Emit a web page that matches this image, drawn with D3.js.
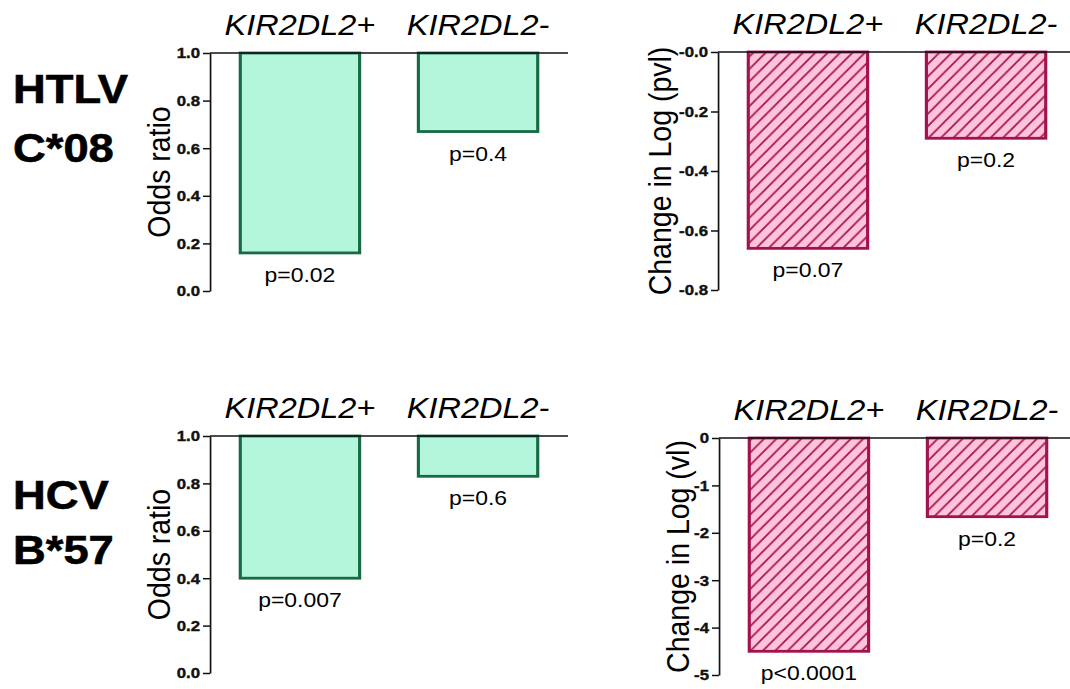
<!DOCTYPE html>
<html>
<head>
<meta charset="utf-8">
<script src="https://cdn.jsdelivr.net/npm/d3@7"></script>
<style>
  body { margin: 0; background: #fff; }
  svg { display: block; }
  text { font-family: "Liberation Sans", Arial, sans-serif; }
</style>
</head>
<body>
<svg id="chart"></svg>
<script>
// data
const categories = ["KIR2DL2+", "KIR2DL2-"];
const htlvOdds = [0.16, 0.67];
const htlvOddsP = ["p=0.02", "p=0.4"];
const htlvPvl = [-0.66, -0.29];
const htlvPvlP = ["p=0.07", "p=0.2"];
const hcvOdds = [0.40, 0.83];
const hcvOddsP = ["p=0.007", "p=0.6"];
const hcvVl = [-4.5, -1.66];
const hcvVlP = ["p<0.0001", "p=0.2"];
const oddsTicks = [0, 0.2, 0.4, 0.6, 0.8, 1.0];
const pvlTicks = [0, -0.2, -0.4, -0.6, -0.8];
const vlTicks = [0, -1, -2, -3, -4, -5];

const W = 1070, H = 689;
const SX = 1.12; // the original figure is a bit stretched sideways
const svg = d3.select("#chart")
  .attr("width", W).attr("height", H)
  .attr("viewBox", `0 0 ${W / SX} ${H}`)
  .attr("preserveAspectRatio", "none");

// hatch for the viral load panels
const hw = 12.4 / SX, hh = 12.4;
svg.append("defs").append("pattern")
  .attr("id", "hatch")
  .attr("patternUnits", "userSpaceOnUse")
  .attr("width", hw).attr("height", hh)
  .call(p => p.append("rect").attr("width", hw).attr("height", hh).attr("fill", "#ffc3da"))
  .append("path")
  .attr("d", `M${-hw / 2},${hh / 2}L${hw / 2},${-hh / 2}M0,${hh}L${hw},0M${hw / 2},${hh * 1.5}L${hw * 1.5},${hh / 2}`)
  .attr("stroke", "#a3124f")
  .attr("stroke-width", 1.6);

// group labels on the left
const groups = [
  { lines: ["HTLV", "C*08"], y: [103, 162] },
  { lines: ["HCV", "B*57"], y: [509, 564] }
];
groups.forEach(g => {
  g.lines.forEach((t, i) => {
    svg.append("text")
      .attr("x", 13 / SX).attr("y", g.y[i])
      .attr("font-size", 40.5).attr("font-weight", "bold")
      .attr("stroke", "#000").attr("stroke-width", 0.6)
      .text(t);
  });
});

function panel(opt) {
  const g = svg.append("g");
  const x = d3.scaleBand()
    .domain(categories)
    .range([opt.axisX / SX, (opt.axisX + 358) / SX])
    .paddingInner(0.33)
    .paddingOuter(0.17);
  const y = d3.scaleLinear().domain(opt.domain).range(opt.range);
  const data = categories.map((c, i) => ({ c, v: opt.values[i], p: opt.pvals[i] }));

  g.selectAll("rect.bar")
    .data(data)
    .join("rect")
    .attr("class", "bar")
    .attr("x", d => x(d.c))
    .attr("width", x.bandwidth())
    .attr("y", d => Math.min(y(d.v), y(opt.ref)))
    .attr("height", d => Math.abs(y(d.v) - y(opt.ref)))
    .attr("fill", opt.fill)
    .attr("stroke", opt.stroke)
    .attr("stroke-width", 2.8);

  // reference line along the top
  g.append("line")
    .attr("x1", opt.axisX / SX)
    .attr("x2", Math.min(opt.axisX + 358, W) / SX)
    .attr("y1", y(opt.ref)).attr("y2", y(opt.ref))
    .attr("stroke", "#111").attr("stroke-width", 1.5);

  const axis = d3.axisLeft(y)
    .tickValues(opt.ticks)
    .tickSize(7 / SX)
    .tickSizeOuter(0)
    .tickPadding(3 / SX)
    .tickFormat(opt.fmt);
  g.append("g")
    .attr("transform", `translate(${opt.axisX / SX},0)`)
    .call(axis)
    .call(a => a.attr("font-size", 15).attr("font-family", null))
    .call(a => a.selectAll("path, line").attr("stroke", "#111").attr("stroke-width", 1.5))
    .call(a => a.selectAll("text")
      .attr("font-size", 15).attr("font-weight", "bold")
      .attr("fill", "#111")
      .attr("stroke", "#111").attr("stroke-width", 0.4));

  g.selectAll("text.cat")
    .data(categories)
    .join("text")
    .attr("class", "cat")
    .attr("x", d => x(d) + x.bandwidth() / 2)
    .attr("y", y(opt.ref) - 18)
    .attr("text-anchor", "middle")
    .attr("font-size", 29).attr("font-style", "italic")
    .text(d => d);

  g.selectAll("text.pval")
    .data(data)
    .join("text")
    .attr("class", "pval")
    .attr("x", d => x(d.c) + x.bandwidth() / 2)
    .attr("y", d => y(d.v) + 29)
    .attr("text-anchor", "middle")
    .attr("font-size", 20.5)
    .text(d => d.p);

  const mid = (opt.range[0] + opt.range[1]) / 2;
  g.append("text")
    .attr("transform", `translate(${opt.titleX / SX},${mid}) rotate(-90)`)
    .attr("text-anchor", "middle")
    .attr("dy", "0.36em")
    .attr("font-size", 28.5)
    .text(opt.title);
}

panel({
  axisX: 210, domain: [0, 1], range: [291, 53], ref: 1,
  values: htlvOdds, pvals: htlvOddsP, ticks: oddsTicks,
  fmt: d3.format(".1f"), fill: "#b3f6dc", stroke: "#176b44",
  title: "Odds ratio", titleX: 158
});
panel({
  axisX: 718, domain: [-0.8, 0], range: [290, 52], ref: 0,
  values: htlvPvl, pvals: htlvPvlP, ticks: pvlTicks,
  fmt: d => "-" + Math.abs(d).toFixed(1), fill: "url(#hatch)", stroke: "#a3124f",
  title: "Change in Log (pvl)", titleX: 659
});
panel({
  axisX: 210, domain: [0, 1], range: [673, 436], ref: 1,
  values: hcvOdds, pvals: hcvOddsP, ticks: oddsTicks,
  fmt: d3.format(".1f"), fill: "#b3f6dc", stroke: "#176b44",
  title: "Odds ratio", titleX: 158
});
panel({
  axisX: 719, domain: [-5, 0], range: [675, 438], ref: 0,
  values: hcvVl, pvals: hcvVlP, ticks: vlTicks,
  fmt: d => d === 0 ? "0" : "-" + Math.abs(d), fill: "url(#hatch)", stroke: "#a3124f",
  title: "Change in Log (vl)", titleX: 677
});
</script>
</body>
</html>
